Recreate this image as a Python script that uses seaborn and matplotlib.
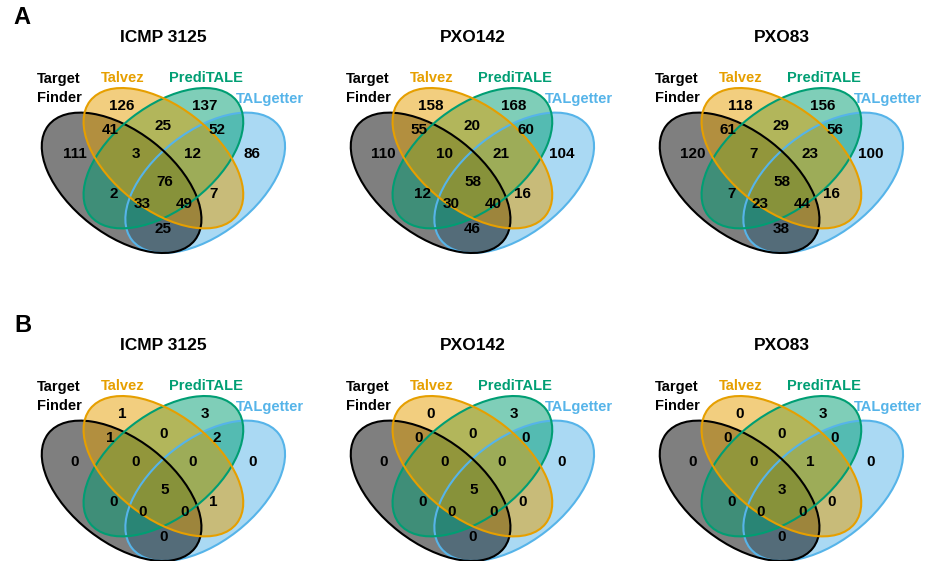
import matplotlib
matplotlib.use("Agg")
import matplotlib.pyplot as plt
from matplotlib.patches import Ellipse
import seaborn as sns

sns.set_theme(style="white")
plt.rcParams["font.family"] = ["Liberation Sans", "DejaVu Sans"]
plt.rcParams["font.weight"] = "bold"
plt.rcParams["text.color"] = "black"

# ---- data -------------------------------------------------------------
tools = ["Target\nFinder", "Talvez", "PrediTALE", "TALgetter"]
strains = ["ICMP 3125", "PXO142", "PXO83"]
panel_letters = ["A", "B"]

# membership code per region: Target Finder, Talvez, PrediTALE, TALgetter
regions = ["1000", "0100", "0010", "0001",
           "1100", "0110", "0011",
           "1110", "0111", "1111",
           "1010", "0101",
           "1011", "1101", "1001"]

a_icmp3125 = [111, 126, 137, 86, 41, 25, 52, 3, 12, 76, 2, 7, 33, 49, 25]
a_pxo142 = [110, 158, 168, 104, 55, 20, 60, 10, 21, 58, 12, 16, 30, 40, 46]
a_pxo83 = [120, 118, 156, 100, 61, 29, 56, 7, 23, 58, 7, 16, 23, 44, 38]
b_icmp3125 = [0, 1, 3, 0, 1, 0, 2, 0, 0, 5, 0, 1, 0, 0, 0]
b_pxo142 = [0, 0, 3, 0, 0, 0, 0, 0, 0, 5, 0, 0, 0, 0, 0]
b_pxo83 = [0, 0, 3, 0, 0, 0, 0, 0, 1, 3, 0, 0, 0, 0, 0]

counts = [[a_icmp3125, a_pxo142, a_pxo83],
          [b_icmp3125, b_pxo142, b_pxo83]]

# ---- styling / layout (panel-local units, 1 unit = 1 px) ---------------
palette = sns.color_palette(["#000000", "#E69F00", "#009E73", "#56B4E9"])

ELL_A, ELL_B, ELL_ANG = 93.0, 51.5, 38.0
DX, DY = 41.8, 12.3
ellipse_geom = [((-DX, -DY), -ELL_ANG),
                ((0.0, DY), -ELL_ANG),
                ((0.0, DY), ELL_ANG),
                ((DX, -DY), ELL_ANG)]
fill_order = [3, 0, 2, 1]

region_xy = {
    "1000": (-89.0, 16.5), "0100": (-41.5, 64.5),
    "0010": (41.5, 64.5), "0001": (89.0, 16.5),
    "1100": (-53.5, 40.0), "0110": (0.0, 44.5),
    "0011": (53.5, 40.0), "1110": (-27.5, 16.5),
    "0111": (29.0, 16.5), "1111": (1.0, -11.5),
    "1010": (-50.0, -23.5), "0101": (50.0, -23.5),
    "1011": (-21.0, -33.5), "1101": (21.0, -33.5),
    "1001": (0.0, -58.5),
}
label_xy = [(-104.4, 82.0), (-41.0, 92.5), (42.6, 92.5), (106.6, 71.5)]
title_y = 132.7

W, H = 930, 561
fig = plt.figure(figsize=(W / 100, H / 100), dpi=100)

HALF = 150
col_cx = [163.4, 472.4, 781.4]
row_cy = [170.5, 478.5]        # pixel rows, measured from the top
letter_xy = [(22, 17), (23, 325)]

for r, letter in enumerate(panel_letters):
    fig.text(letter_xy[r][0] / W, 1 - letter_xy[r][1] / H, letter,
             fontsize=17, fontweight="bold", ha="center", va="center")
    for c, strain in enumerate(strains):
        left = col_cx[c] - HALF
        bottom = (H - row_cy[r]) - HALF
        ax = fig.add_axes([left / W, bottom / H, 2 * HALF / W, 2 * HALF / H])
        ax.set_xlim(-HALF, HALF)
        ax.set_ylim(-HALF, HALF)
        ax.set_axis_off()

        for i in fill_order:
            (cx, cy), ang = ellipse_geom[i]
            ax.add_patch(Ellipse((cx, cy), 2 * ELL_A, 2 * ELL_B, angle=ang,
                                 facecolor=palette[i], alpha=0.5,
                                 edgecolor="none", zorder=1))
        for i in fill_order:
            (cx, cy), ang = ellipse_geom[i]
            ax.add_patch(Ellipse((cx, cy), 2 * ELL_A, 2 * ELL_B, angle=ang,
                                 facecolor="none", edgecolor=palette[i],
                                 linewidth=1.5, zorder=2))

        for key, val in zip(regions, counts[r][c]):
            x, y = region_xy[key]
            ax.text(x, y, str(val), fontsize=11, fontweight="bold",
                    ha="center", va="center", zorder=3)

        for i, name in enumerate(tools):
            x, y = label_xy[i]
            ax.text(x, y, name, fontsize=10.5, fontweight="bold",
                    color=palette[i], ha="center", va="center",
                    linespacing=1.45, zorder=3)

        ax.text(0, title_y, strain, fontsize=12.5, fontweight="bold",
                ha="center", va="center")

fig.savefig("out.png", dpi=100)
